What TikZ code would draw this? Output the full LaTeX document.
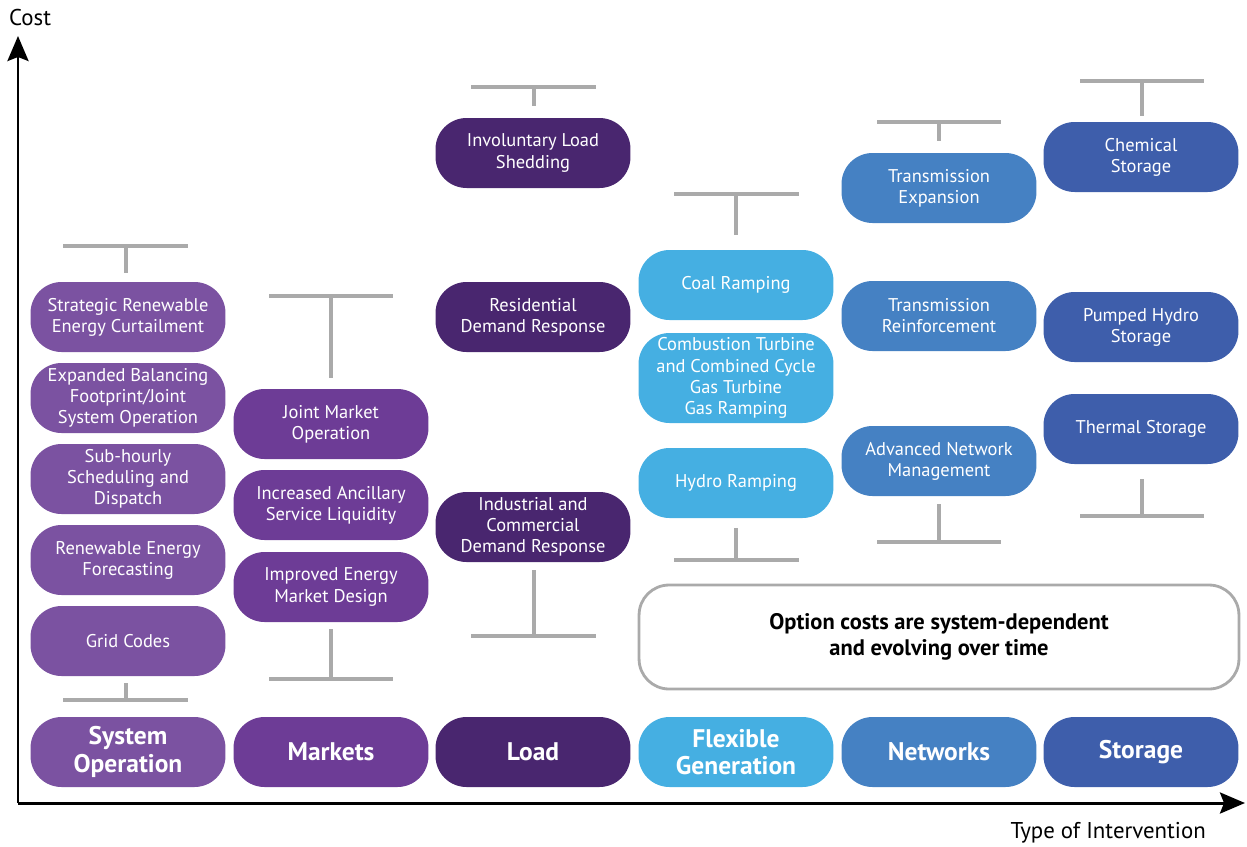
\documentclass[tikz,border=0pt]{standalone}
\usepackage{fontspec}
\setmainfont{PT Sans}
\usetikzlibrary{arrows.meta}

\definecolor{sysop}{HTML}{7B52A1}
\definecolor{mkt}{HTML}{6D3C96}
\definecolor{load}{HTML}{49266F}
\definecolor{flexgen}{HTML}{45AFE2}
\definecolor{netw}{HTML}{4581C3}
\definecolor{stor}{HTML}{3E5EAB}
\definecolor{bargray}{HTML}{AAAAAA}

\tikzset{
  opt/.style={draw=none, fill=#1, rounded corners=0.62cm, minimum width=3.9cm,
    minimum height=1.4cm, inner sep=1pt, align=center, text=white,
    font=\fontsize{10.5}{12}\selectfont},
  head/.style={opt=#1, font=\fontsize{14.5}{15.5}\selectfont\bfseries},
  tbar/.style={draw=bargray, line width=2.4pt},
  axis/.style={line width=1.7pt, -{Stealth[length=0.5cm,width=0.42cm,inset=0.08cm]}}
}

\begin{document}
\begin{tikzpicture}[x=0.02cm,y=-0.02cm]
\useasboundingbox (0,0) rectangle (1247,846);

% axes
\coordinate (origin) at (18,803);
\coordinate (ytip) at (18,36);
\coordinate (xtip) at (1245,803);
\draw[axis] (origin) -- (ytip);
\draw[axis] (origin) -- (xtip);
\node[anchor=west, font=\fontsize{13}{14}\selectfont] (costlbl) at (3,18) {Cost};
\node[anchor=east, font=\fontsize{13}{14}\selectfont] (typelbl) at (1212,833) {Type of Intervention};

% system operation
\node[head=sysop] (sohead) at (128,752) {System\\Operation};
\node[opt=sysop] (so1) at (128,317) {Strategic Renewable\\Energy Curtailment};
\node[opt=sysop] (so2) at (128,398) {Expanded Balancing\\Footprint/Joint\\System Operation};
\node[opt=sysop] (so3) at (128,479) {Sub-hourly\\Scheduling and\\Dispatch};
\node[opt=sysop] (so4) at (128,560) {Renewable Energy\\Forecasting};
\node[opt=sysop] (so5) at (128,641) {Grid Codes};
\draw[tbar] (63,246) -- (188,246) (126,246) -- (126,273);
\draw[tbar] (63,700) -- (188,700) (126,700) -- (126,683);

% markets
\node[head=mkt] (mkthead) at (331,752) {Markets};
\node[opt=mkt] (mkt1) at (331,424) {Joint Market\\Operation};
\node[opt=mkt] (mkt2) at (331,505) {Increased Ancillary\\Service Liquidity};
\node[opt=mkt] (mkt3) at (331,587) {Improved Energy\\Market Design};
\draw[tbar] (269,296) -- (393,296) (331,296) -- (331,378);
\draw[tbar] (269,679) -- (393,679) (331,679) -- (331,629);

% load
\node[head=load] (loadhead) at (533,752) {Load};
\node[opt=load] (load1) at (533,153) {Involuntary Load\\Shedding};
\node[opt=load] (load2) at (533,317) {Residential\\Demand Response};
\node[opt=load] (load3) at (533,527) {Industrial and\\Commercial\\Demand Response};
\draw[tbar] (471,87) -- (596,87) (534,87) -- (534,106);
\draw[tbar] (471,636) -- (596,636) (534,636) -- (534,570);

% flexible generation
\node[head=flexgen] (fghead) at (736,752) {Flexible\\Generation};
\node[opt=flexgen] (fg1) at (736,285) {Coal Ramping};
\node[opt=flexgen, minimum height=1.8cm] (fg2) at (736,378) {Combustion Turbine\\and Combined Cycle\\Gas Turbine\\Gas Ramping};
\node[opt=flexgen] (fg3) at (736,483) {Hydro Ramping};
\draw[tbar] (674,194) -- (799,194) (736,194) -- (736,235);
\draw[tbar] (674,560) -- (799,560) (736,560) -- (736,528);

% networks
\node[head=netw] (nwhead) at (939,752) {Networks};
\node[opt=netw] (nw1) at (939,188) {Transmission\\Expansion};
\node[opt=netw] (nw2) at (939,316) {Transmission\\Reinforcement};
\node[opt=netw] (nw3) at (939,461) {Advanced Network\\Management};
\draw[tbar] (877,122) -- (1001,122) (939,122) -- (939,141);
\draw[tbar] (877,542) -- (1001,542) (939,542) -- (939,504);

% storage
\node[head=stor] (sthead) at (1141,752) {Storage};
\node[opt=stor] (st1) at (1141,157) {Chemical\\Storage};
\node[opt=stor] (st2) at (1141,327) {Pumped Hydro\\Storage};
\node[opt=stor] (st3) at (1141,429) {Thermal Storage};
\draw[tbar] (1080,81) -- (1204,81) (1142,81) -- (1142,116);
\draw[tbar] (1080,516) -- (1204,516) (1142,516) -- (1142,479);

% note
\node[draw=bargray, line width=1.6pt, rounded corners=0.6cm, minimum width=12cm,
  minimum height=2.08cm, align=center, font=\fontsize{12.8}{15}\selectfont\bfseries]
  (note) at (939,637) {Option costs are system-dependent\\and evolving over time};
\end{tikzpicture}
\end{document}
